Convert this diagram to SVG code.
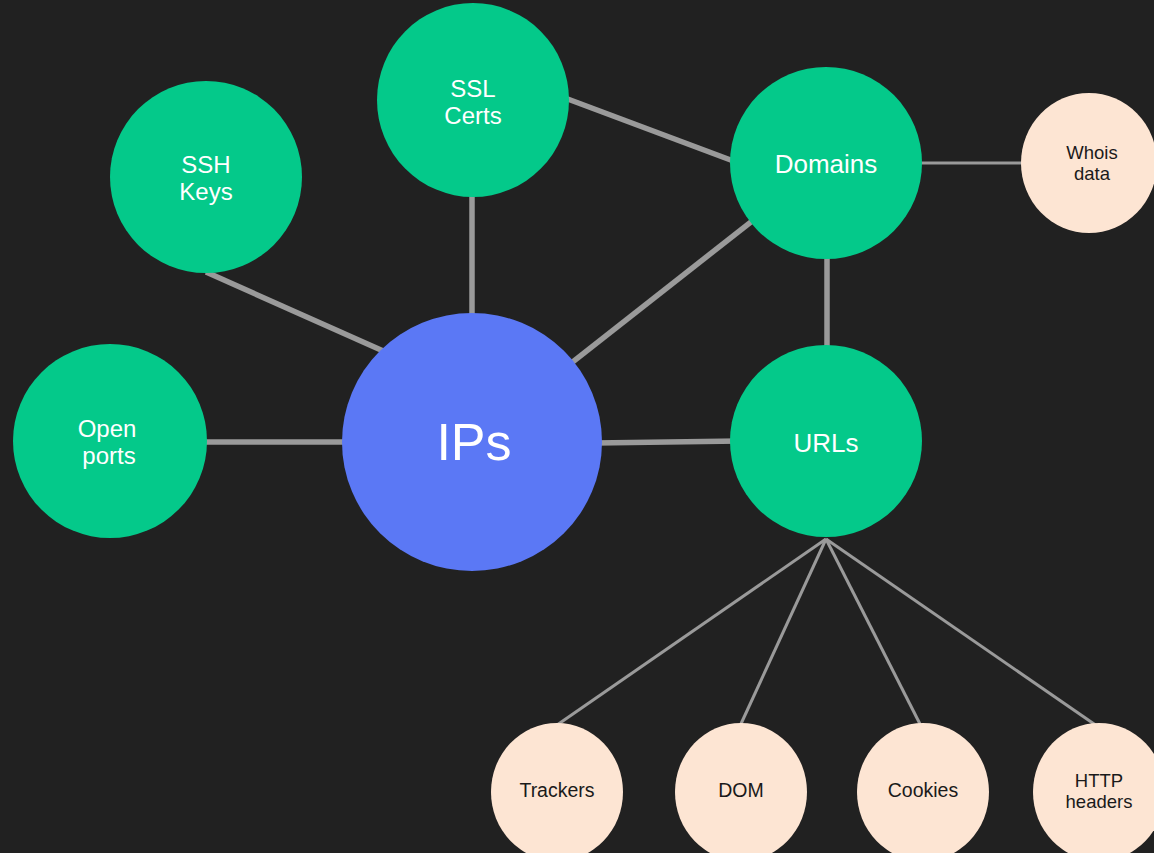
<svg xmlns="http://www.w3.org/2000/svg" width="1154" height="853" viewBox="0 0 1154 853">
<style>
.bg{fill:#212121}
.g{fill:#04c98a}
.b{fill:#5b78f5}
.p{fill:#fde5d3}
.c{stroke:#9a9a9a;stroke-width:5.5;fill:none}
.t{stroke:#9a9a9a;stroke-width:3;fill:none}
text{font-family:"Liberation Sans",Arial,sans-serif;text-anchor:middle}
.w{fill:#ffffff;font-size:26px}
.w2{fill:#ffffff;font-size:24px}
.d{fill:#1a1a1a;font-size:19.5px}
.d2{fill:#1a1a1a;font-size:18.5px}
.big{fill:#ffffff;font-size:52px}
</style>
<rect class="bg" x="0" y="0" width="1154" height="853"/>
<g id="connectors">
<line class="c" x1="206" y1="272" x2="390" y2="354"/>
<line class="c" x1="472" y1="190" x2="472" y2="320"/>
<line class="c" x1="565" y1="98" x2="736" y2="162"/>
<line class="c" x1="826" y1="163" x2="472" y2="441"/>
<line class="c" x1="827" y1="250" x2="827" y2="355"/>
<line class="c" x1="595" y1="443" x2="740" y2="441"/>
<line class="c" x1="200" y1="442" x2="350" y2="442"/>
<line class="t" x1="915" y1="163" x2="1028" y2="163"/>
<line class="t" x1="826" y1="539" x2="557" y2="725"/>
<line class="t" x1="826" y1="539" x2="740" y2="726"/>
<line class="t" x1="826" y1="539" x2="921" y2="726"/>
<line class="t" x1="826" y1="539" x2="1097" y2="726"/>
</g>
<g id="ssh-keys">
<ellipse class="g" cx="206" cy="177" rx="96" ry="96"/>
<text class="w2" x="206" y="173">SSH</text>
<text class="w2" x="206" y="200">Keys</text>
</g>
<g id="ssl-certs">
<ellipse class="g" cx="473" cy="100" rx="96" ry="97"/>
<text class="w2" x="473" y="97">SSL</text>
<text class="w2" x="473" y="124">Certs</text>
</g>
<g id="domains">
<ellipse class="g" cx="826" cy="163" rx="96" ry="96"/>
<text class="w" x="826" y="173">Domains</text>
</g>
<g id="whois-data">
<ellipse class="p" cx="1089" cy="163" rx="68" ry="70"/>
<text class="d2" x="1092" y="159">Whois</text>
<text class="d2" x="1092" y="180">data</text>
</g>
<g id="open-ports">
<ellipse class="g" cx="110" cy="441" rx="97" ry="97"/>
<text class="w2" x="107" y="437">Open</text>
<text class="w2" x="109" y="464">ports</text>
</g>
<g id="ips">
<ellipse class="b" cx="472" cy="442" rx="130" ry="129"/>
<text class="big" x="474" y="460">IPs</text>
</g>
<g id="urls">
<ellipse class="g" cx="826" cy="441" rx="96" ry="96"/>
<text class="w" x="826" y="452">URLs</text>
</g>
<g id="trackers">
<ellipse class="p" cx="557" cy="792" rx="66" ry="69"/>
<text class="d" x="557" y="797">Trackers</text>
</g>
<g id="dom">
<ellipse class="p" cx="741" cy="792" rx="66" ry="69"/>
<text class="d" x="741" y="797">DOM</text>
</g>
<g id="cookies">
<ellipse class="p" cx="923" cy="792" rx="66" ry="69"/>
<text class="d" x="923" y="797">Cookies</text>
</g>
<g id="http-headers">
<ellipse class="p" cx="1099" cy="792" rx="66" ry="69"/>
<text class="d2" x="1099" y="787">HTTP</text>
<text class="d2" x="1099" y="808">headers</text>
</g>
</svg>
